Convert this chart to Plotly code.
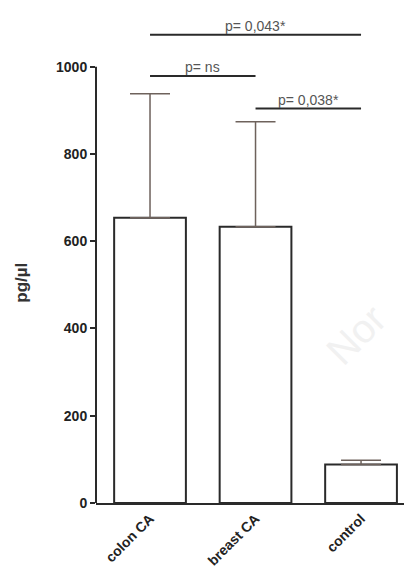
import plotly.graph_objects as go

categories = ["colon CA", "breast CA", "control"]
means = [654, 633, 88]
sem_up = [284, 241, 10]
y_ticks = [0, 200, 400, 600, 800, 1000]

# significance brackets: (x_start, x_end, y, label)
sig_x0 = [0, 0, 1]
sig_x1 = [2, 1, 2]
sig_y = [1073, 979, 904]
sig_labels = ["p= 0,043*", "p= ns", "p= 0,038*"]

FONT = "Liberation Sans, Arial, sans-serif"

fig = go.Figure()
fig.add_trace(go.Bar(
    x=list(range(len(categories))),
    y=means,
    width=0.68,
    marker=dict(color="white", line=dict(color="#2a2a2a", width=2)),
    error_y=dict(type="data", array=sem_up, arrayminus=[0] * len(means),
                 symmetric=False, color="#6e625c", thickness=1.5, width=20),
    showlegend=False,
))

shapes = []
annotations = []
# y axis line only from 0 to 1000
shapes.append(dict(type="line", xref="paper", yref="y", x0=0, x1=0, y0=0, y1=1000,
                   line=dict(color="#2a2a2a", width=2)))
for x0, x1, y, lab in zip(sig_x0, sig_x1, sig_y, sig_labels):
    shapes.append(dict(type="line", xref="x", yref="y", x0=x0, x1=x1, y0=y, y1=y,
                       line=dict(color="#2a2a2a", width=2)))
    annotations.append(dict(x=(x0 + x1) / 2, y=y, xref="x", yref="y", text=lab,
                            showarrow=False, yanchor="bottom", yshift=-1,
                            font=dict(family=FONT, size=14, color="#555555")))

annotations.append(dict(xref="paper", x=0, xshift=-74, yref="y", y=505,
                        text="<b>pg/µl</b>", textangle=-90, showarrow=False,
                        xanchor="center", yanchor="middle",
                        font=dict(family=FONT, size=17, color="#333333")))
annotations.append(dict(xref="x", x=1.95, yref="y", y=385, text="Nor",
                        textangle=-45, showarrow=False,
                        font=dict(family=FONT, size=40, color="#f1f1f1")))

fig.update_layout(
    width=404, height=560,
    margin=dict(l=88, r=0, t=2, b=65),
    paper_bgcolor="white", plot_bgcolor="white",
    shapes=shapes, annotations=annotations,
    bargap=0.3,
)
fig.update_xaxes(
    range=[-0.512, 2.483],
    tickvals=list(range(len(categories))), ticktext=categories,
    tickangle=-45, showline=True, linecolor="#2a2a2a", linewidth=2,
    showgrid=False, zeroline=False, ticks="",
    tickfont=dict(family=FONT, size=14, color="#222222", weight="bold"),
)
fig.update_yaxes(
    range=[0, 1130], tickvals=y_ticks, ticktext=[str(v) for v in y_ticks],
    ticks="outside", ticklen=5, tickwidth=1.5, tickcolor="#2a2a2a",
    showline=False, showgrid=False, zeroline=False,
    tickfont=dict(family=FONT, size=14, color="#222222", weight="bold"),
)

fig.write_html("out.html")
